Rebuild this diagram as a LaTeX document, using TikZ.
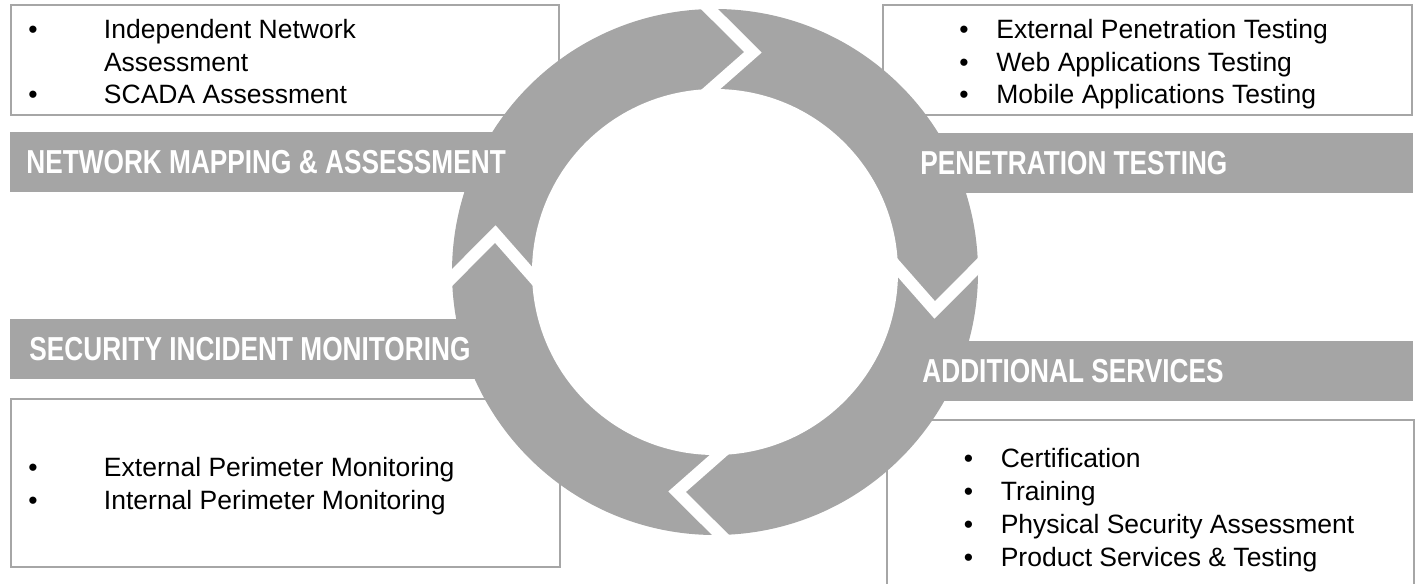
\documentclass[tikz,border=0pt]{standalone}
\usepackage{fontspec}
\setmainfont{Liberation Sans}
\newfontfamily\barfont[FakeStretch=0.79]{Liberation Sans}
\usetikzlibrary{calc}
\definecolor{ringgray}{HTML}{A5A5A5}
\definecolor{boxgray}{HTML}{A6A6A6}
\newcommand\blt[1]{\makebox[#1][l]{\textbullet}}

\begin{document}
\begin{tikzpicture}[x=0.5pt,y=-0.5pt,
  boxline/.style={draw=boxgray,line width=1pt},
  barfill/.style={fill=ringgray},
  cut/.style={draw=white,line width=6pt,line join=miter},
  bartext/.style={anchor=west,inner sep=0pt,text=white,font=\barfont\bfseries\fontsize{16.6}{20}\selectfont},
  listtext/.style={anchor=north west,inner sep=0pt,align=left,font=\fontsize{13.25}{16.4}\selectfont}]
\useasboundingbox(0,0)rectangle(1416,583);
\draw[boxline](11,5)rectangle(559,115);
\draw[boxline](883,5)rectangle(1412,115);
\draw[boxline](11,399)rectangle(560,567);
\draw[boxline](887,584)|-(1414,420)--(1414,584);
\fill[barfill](10,132)rectangle(640,192);
\fill[barfill](790,133)rectangle(1413,193);
\fill[barfill](10,319)rectangle(640,379);
\fill[barfill](790,341)rectangle(1413,401);
\coordinate(c)at(715,272);
\fill[ringgray](c)circle(263);
\fill[white](c)circle(183);
\foreach \a in {-1.2,88.8,178.8,268.8}{
\path(c)+(\a:263)coordinate(o)(c)+(\a:183)coordinate(i)(c)+(\a+11:223)coordinate(t);
\draw[cut]($(t)!1.3!(o)$)--(t)--($(t)!1.3!(i)$);}
\node[bartext](netmap)at(26,162){NETWORK MAPPING \& ASSESSMENT};
\node[bartext](pentest)at(920,163){PENETRATION TESTING};
\node[bartext](secmon)at(29,349){SECURITY INCIDENT MONITORING};
\node[bartext](addserv)at(922,371){ADDITIONAL SERVICES};
\node[listtext](netlist)at(28,18.7){\blt{37.8pt}Independent Network\\\hspace*{37.8pt}Assessment\\\blt{37.8pt}SCADA Assessment};
\node[listtext](penlist)at(959,18.7){\blt{18.5pt}External Penetration Testing\\\blt{18.5pt}Web Applications Testing\\\blt{18.5pt}Mobile Applications Testing};
\node[listtext](seclist)at(28,457.2){\blt{37.8pt}External Perimeter Monitoring\\\blt{37.8pt}Internal Perimeter Monitoring};
\node[listtext](addlist)at(963.4,448.2){\blt{18.5pt}Certification\\\blt{18.5pt}Training\\\blt{18.5pt}Physical Security Assessment\\\blt{18.5pt}Product Services \& Testing};
\end{tikzpicture}
\end{document}
